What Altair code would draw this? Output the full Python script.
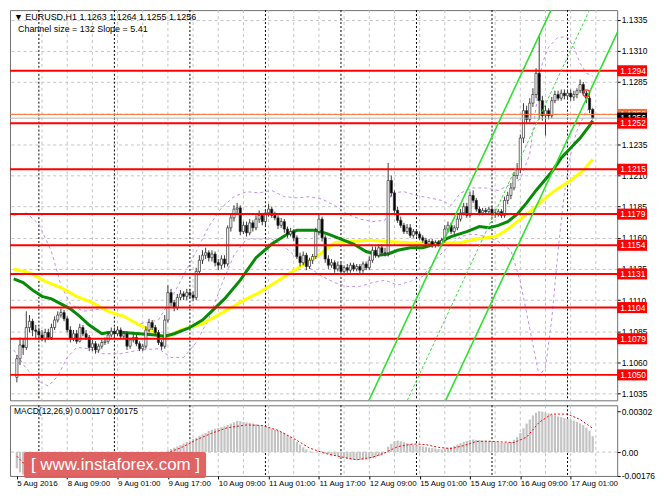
import altair as alt
import pandas as pd

FONT = "Liberation Sans"
W, H_MAIN, H_MACD = 610, 392, 71
X_DOMAIN = [-7.6, 182.2]
P_DOMAIN = [1.10296, 1.13427]
M_DOMAIN = [-0.00176, 0.00345]
FS = 8.5

header_line1 = "\u25BC EURUSD,H1  1.1263 1.1264 1.1255 1.1256"
header_line2 = "Channel size = 132 Slope = 5.41"
macd_caption = "MACD(12,26,9) 0.00117 0.00175"
watermark = "[  www.instaforex.com  ]"

# ---------------- hourly candles (bar 0 = 8 Aug 00:00) ----------------
bar_index = list(range(-7, 177))

opens = [
    1.1048, 1.1063, 1.1074, 1.1072, 1.1088, 1.1093, 1.1086,
    1.1085, 1.1082, 1.1079, 1.1084, 1.1080, 1.1088, 1.1094, 1.1098, 1.1100, 1.1095, 1.1086, 1.1079,
    1.1083, 1.1077, 1.1088, 1.1083, 1.1080, 1.1072, 1.1075, 1.1070, 1.1073, 1.1076, 1.1077, 1.1082,
    1.1085, 1.1083, 1.1086, 1.1081, 1.1083, 1.1073, 1.1078, 1.1080, 1.1075, 1.1071, 1.1073, 1.1086,
    1.1092, 1.1088, 1.1084, 1.1076, 1.1073, 1.1094, 1.1116, 1.1108, 1.1104, 1.1112, 1.1115, 1.1113,
    1.1116, 1.1114, 1.1112, 1.1133, 1.1142, 1.1146, 1.1148, 1.1144, 1.1147, 1.1140, 1.1138, 1.1143,
    1.1139, 1.1168, 1.1176, 1.1183, 1.1184, 1.1165, 1.1170, 1.1164, 1.1172, 1.1168, 1.1175, 1.1178,
    1.1173, 1.1180, 1.1183, 1.1178, 1.1176, 1.1170, 1.1173, 1.1167, 1.1163, 1.1165, 1.1160, 1.1145,
    1.1140, 1.1146, 1.1137, 1.1142, 1.1145, 1.1165, 1.1175, 1.1160, 1.1143, 1.1138, 1.1140, 1.1135,
    1.1138, 1.1133, 1.1136, 1.1134, 1.1138, 1.1135, 1.1137, 1.1134, 1.1139, 1.1136, 1.1142, 1.1150,
    1.1146, 1.1152, 1.1148, 1.1148, 1.1206, 1.1196, 1.1182, 1.1174, 1.1170, 1.1165, 1.1168, 1.1162,
    1.1165, 1.1163, 1.1160, 1.1158, 1.1155, 1.1157, 1.1154, 1.1156, 1.1155, 1.1158, 1.1167, 1.1170,
    1.1165, 1.1168, 1.1175, 1.1180, 1.1185, 1.1178, 1.1194, 1.1190, 1.1183, 1.1180, 1.1182, 1.1181,
    1.1183, 1.1180, 1.1179, 1.1181, 1.1178, 1.1190, 1.1194, 1.1200, 1.1210, 1.1215, 1.1240, 1.1262,
    1.1255, 1.1268, 1.1275, 1.1292, 1.1270, 1.1258, 1.1262, 1.1258, 1.1270, 1.1275, 1.1272, 1.1276,
    1.1274, 1.1276, 1.1273, 1.1275, 1.1278, 1.1283, 1.1276, 1.1272, 1.1263,
]
highs = [
    1.1066, 1.1080, 1.1079, 1.1101, 1.1098, 1.1095, 1.1090,
    1.1088, 1.1086, 1.1087, 1.1087, 1.1091, 1.1097, 1.1101, 1.1103, 1.1102, 1.1097, 1.1089, 1.1086,
    1.1086, 1.1091, 1.1090, 1.1086, 1.1082, 1.1078, 1.1077, 1.1075, 1.1078, 1.1080, 1.1084, 1.1088,
    1.1088, 1.1089, 1.1088, 1.1085, 1.1085, 1.1080, 1.1083, 1.1082, 1.1077, 1.1075, 1.1089, 1.1095,
    1.1094, 1.1090, 1.1086, 1.1078, 1.1098, 1.1122, 1.1119, 1.1110, 1.1115, 1.1118, 1.1117, 1.1119,
    1.1119, 1.1117, 1.1136, 1.1146, 1.1150, 1.1152, 1.1150, 1.1150, 1.1149, 1.1143, 1.1146, 1.1146,
    1.1170, 1.1179, 1.1186, 1.1188, 1.1186, 1.1173, 1.1173, 1.1175, 1.1174, 1.1178, 1.1182, 1.1180,
    1.1183, 1.1187, 1.1185, 1.1181, 1.1178, 1.1176, 1.1175, 1.1169, 1.1168, 1.1167, 1.1162, 1.1148,
    1.1149, 1.1148, 1.1144, 1.1147, 1.1168, 1.1179, 1.1177, 1.1162, 1.1146, 1.1143, 1.1142, 1.1141,
    1.1140, 1.1138, 1.1139, 1.1140, 1.1140, 1.1139, 1.1139, 1.1141, 1.1141, 1.1145, 1.1153, 1.1153,
    1.1155, 1.1155, 1.1152, 1.1220, 1.1210, 1.1198, 1.1185, 1.1177, 1.1172, 1.1171, 1.1171, 1.1167,
    1.1167, 1.1165, 1.1162, 1.1160, 1.1159, 1.1159, 1.1158, 1.1158, 1.1160, 1.1170, 1.1173, 1.1172,
    1.1170, 1.1178, 1.1183, 1.1188, 1.1188, 1.1197, 1.1198, 1.1192, 1.1185, 1.1184, 1.1184, 1.1185,
    1.1185, 1.1183, 1.1183, 1.1183, 1.1193, 1.1197, 1.1204, 1.1213, 1.1220, 1.1243, 1.1268, 1.1266,
    1.1272, 1.1280, 1.1296, 1.1322, 1.1274, 1.1266, 1.1264, 1.1273, 1.1278, 1.1278, 1.1279, 1.1279,
    1.1279, 1.1279, 1.1278, 1.1280, 1.1287, 1.1285, 1.1278, 1.1274, 1.1264,
]
lows = [
    1.1044, 1.1058, 1.1066, 1.1070, 1.1084, 1.1081, 1.1079,
    1.1078, 1.1077, 1.1076, 1.1078, 1.1078, 1.1086, 1.1092, 1.1096, 1.1093, 1.1084, 1.1076, 1.1077,
    1.1075, 1.1076, 1.1081, 1.1078, 1.1069, 1.1069, 1.1067, 1.1068, 1.1071, 1.1074, 1.1075, 1.1080,
    1.1080, 1.1081, 1.1079, 1.1079, 1.1070, 1.1071, 1.1076, 1.1073, 1.1069, 1.1069, 1.1071, 1.1084,
    1.1086, 1.1082, 1.1074, 1.1070, 1.1071, 1.1092, 1.1105, 1.1101, 1.1102, 1.1110, 1.1110, 1.1110,
    1.1111, 1.1109, 1.1110, 1.1130, 1.1139, 1.1143, 1.1141, 1.1141, 1.1137, 1.1134, 1.1135, 1.1136,
    1.1137, 1.1165, 1.1173, 1.1179, 1.1162, 1.1163, 1.1161, 1.1162, 1.1165, 1.1166, 1.1172, 1.1170,
    1.1170, 1.1177, 1.1176, 1.1174, 1.1167, 1.1168, 1.1164, 1.1160, 1.1161, 1.1157, 1.1143, 1.1137,
    1.1138, 1.1134, 1.1135, 1.1139, 1.1143, 1.1162, 1.1157, 1.1140, 1.1135, 1.1136, 1.1132, 1.1133,
    1.1130, 1.1131, 1.1132, 1.1132, 1.1133, 1.1133, 1.1131, 1.1132, 1.1134, 1.1134, 1.1140, 1.1144,
    1.1144, 1.1146, 1.1145, 1.1145, 1.1193, 1.1180, 1.1172, 1.1168, 1.1163, 1.1163, 1.1160, 1.1160,
    1.1161, 1.1158, 1.1156, 1.1152, 1.1153, 1.1152, 1.1152, 1.1153, 1.1153, 1.1156, 1.1164, 1.1163,
    1.1163, 1.1166, 1.1173, 1.1178, 1.1176, 1.1176, 1.1188, 1.1181, 1.1178, 1.1178, 1.1179, 1.1179,
    1.1177, 1.1176, 1.1177, 1.1176, 1.1176, 1.1187, 1.1191, 1.1198, 1.1207, 1.1212, 1.1236, 1.1252,
    1.1253, 1.1265, 1.1272, 1.1255, 1.1254, 1.1242, 1.1255, 1.1256, 1.1268, 1.1270, 1.1270, 1.1271,
    1.1271, 1.1270, 1.1270, 1.1272, 1.1276, 1.1274, 1.1268, 1.1260, 1.1255,
]
closes = [
    1.1063, 1.1074, 1.1072, 1.1088, 1.1093, 1.1086, 1.1085,
    1.1082, 1.1079, 1.1084, 1.1080, 1.1088, 1.1094, 1.1098, 1.1100, 1.1095, 1.1086, 1.1079, 1.1083,
    1.1077, 1.1088, 1.1083, 1.1080, 1.1072, 1.1075, 1.1070, 1.1073, 1.1076, 1.1077, 1.1082, 1.1085,
    1.1083, 1.1086, 1.1081, 1.1083, 1.1073, 1.1078, 1.1080, 1.1075, 1.1071, 1.1073, 1.1086, 1.1092,
    1.1088, 1.1084, 1.1076, 1.1073, 1.1094, 1.1116, 1.1108, 1.1104, 1.1112, 1.1115, 1.1113, 1.1116,
    1.1114, 1.1112, 1.1133, 1.1142, 1.1146, 1.1148, 1.1144, 1.1147, 1.1140, 1.1138, 1.1143, 1.1139,
    1.1168, 1.1176, 1.1183, 1.1184, 1.1165, 1.1170, 1.1164, 1.1172, 1.1168, 1.1175, 1.1178, 1.1173,
    1.1180, 1.1183, 1.1178, 1.1176, 1.1170, 1.1173, 1.1167, 1.1163, 1.1165, 1.1160, 1.1145, 1.1140,
    1.1146, 1.1137, 1.1142, 1.1145, 1.1165, 1.1175, 1.1160, 1.1143, 1.1138, 1.1140, 1.1135, 1.1138,
    1.1133, 1.1136, 1.1134, 1.1138, 1.1135, 1.1137, 1.1134, 1.1139, 1.1136, 1.1142, 1.1150, 1.1146,
    1.1152, 1.1148, 1.1148, 1.1206, 1.1196, 1.1182, 1.1174, 1.1170, 1.1165, 1.1168, 1.1162, 1.1165,
    1.1163, 1.1160, 1.1158, 1.1155, 1.1157, 1.1154, 1.1156, 1.1155, 1.1158, 1.1167, 1.1170, 1.1165,
    1.1168, 1.1175, 1.1180, 1.1185, 1.1178, 1.1194, 1.1190, 1.1183, 1.1180, 1.1182, 1.1181, 1.1183,
    1.1180, 1.1179, 1.1181, 1.1178, 1.1190, 1.1194, 1.1200, 1.1210, 1.1215, 1.1240, 1.1262, 1.1255,
    1.1268, 1.1275, 1.1292, 1.1270, 1.1258, 1.1262, 1.1258, 1.1270, 1.1275, 1.1272, 1.1276, 1.1274,
    1.1276, 1.1273, 1.1275, 1.1278, 1.1283, 1.1276, 1.1272, 1.1263, 1.1256,
]

# MACD main value per bar, in units of 0.00001
macd_hist_e5 = [
    -120, -150, -165, -170, -160, -150, -140,
    -135, -130, -125, -120, -110, -100, -90, -80, -75, -75, -80, -85,
    -90, -90, -90, -95, -100, -105, -105, -100, -95, -90, -85, -80,
    -75, -70, -65, -65, -70, -70, -70, -72, -75, -72, -60, -50,
    -42, -35, -25, -12, 2, 12, 22, 32, 42, 52, 63, 75,
    85, 95, 105, 120, 130, 140, 155, 165, 172, 178, 184, 190,
    200, 210, 220, 230, 228, 222, 218, 214, 210, 205, 200, 196,
    190, 185, 175, 165, 160, 150, 140, 125, 113, 95, 75, 55,
    35, 20, 5, -5, 0, 8, 5, -10, -15, -25, -28, -32,
    -40, -45, -52, -55, -58, -60, -59, -57, -55, -50, -45, -38,
    -30, -25, -10, 40, 60, 80, 85, 80, 72, 65, 60, 55,
    50, 45, 42, 38, 33, 30, 27, 22, 20, 25, 32, 38,
    45, 55, 65, 75, 82, 90, 92, 90, 88, 86, 84, 82,
    78, 74, 72, 70, 68, 70, 75, 90, 110, 140, 175, 210,
    240, 270, 290, 302, 298, 292, 285, 278, 270, 262, 258, 252,
    246, 240, 232, 222, 212, 200, 180, 155, 117,
]
signal_i = [-7, -5, 0, 6, 12, 18, 24, 30, 35, 40, 45, 50, 55, 60, 66, 71, 76, 81, 86, 91,
            96, 101, 106, 110, 114, 119, 123, 127, 131, 135, 139, 143, 147, 151, 155, 159, 163, 168, 172, 176]
signal_e5 = [-30, -80, -115, -125, -110, -100, -95, -75, -55, -12, 30, 90, 140, 180, 200, 196, 160, 100, 30, -10,
             -35, -57, -38, -5, 40, 60, 55, 35, 25, 48, 78, 80, 75, 70, 110, 220, 280, 280, 240, 175]

# moving averages
ma_green_i = [-8, -5, -2, 1, 4, 7, 10, 13, 16, 20, 22, 27, 32, 37, 40, 43, 48, 52, 59, 64,
              69, 74, 79, 82, 88, 92, 96, 100, 104, 108, 111, 114, 118, 122, 126, 131, 136, 140, 143, 146,
              149, 152, 155, 158, 163, 166, 169, 172, 175, 176]
ma_green = [1.1127, 1.1124, 1.1118, 1.1113, 1.1111, 1.1107, 1.1103, 1.1097, 1.1090, 1.1083,
            1.1084, 1.1084, 1.1083, 1.1082, 1.1081, 1.1083, 1.1088, 1.1094, 1.1111, 1.1126,
            1.1144, 1.1155, 1.1163, 1.1166, 1.1166, 1.1163, 1.1159, 1.1155, 1.1149, 1.1146,
            1.1147, 1.1150, 1.1152, 1.1152, 1.1155, 1.1161, 1.1165, 1.1169, 1.1168, 1.1170,
            1.1173, 1.1179, 1.1188, 1.1198, 1.1213, 1.1224, 1.1232, 1.1240, 1.1250, 1.1254]
ma_yellow_i = [-8, -3, 2, 7, 12, 17, 22, 27, 32, 37, 39, 41, 45, 49, 52, 66, 70, 75, 80,
               85, 90, 94, 99, 105, 111, 118, 128, 134, 139, 145, 148, 152, 157, 161, 164, 169, 173, 176]
ma_yellow = [1.1135, 1.1132, 1.1125, 1.1120, 1.1113, 1.1108, 1.1101, 1.1097, 1.1090, 1.1084,
             1.1080, 1.1081, 1.1086, 1.1089, 1.1091, 1.1111, 1.1116, 1.1124, 1.1132,
             1.1140, 1.1148, 1.1156, 1.1157, 1.1158, 1.1157, 1.1156, 1.1156, 1.1156, 1.1159,
             1.1161, 1.1165, 1.1173, 1.1183, 1.1192, 1.1198, 1.1206, 1.1214, 1.1223]

# Bollinger envelope
bb_upper_i = [-8, -4, 0, 4, 7, 10, 14, 20, 26, 32, 38, 42, 46, 50, 54, 58, 62, 66, 70, 74,
              78, 82, 86, 90, 94, 98, 102, 106, 110, 112, 116, 120, 124, 128, 131, 134, 138, 142, 146, 150,
              153, 156, 158, 160, 162, 165, 168, 170, 172, 174, 176]
bb_upper = [1.1178, 1.1180, 1.1171, 1.1149, 1.1122, 1.1107, 1.1101, 1.1103, 1.1097, 1.1091,
            1.1094, 1.1111, 1.1130, 1.1149, 1.1169, 1.1184, 1.1193, 1.1197, 1.1196, 1.1198,
            1.1193, 1.1192, 1.1193, 1.1191, 1.1186, 1.1179, 1.1175, 1.1173, 1.1174, 1.1196,
            1.1197, 1.1194, 1.1192, 1.1190, 1.1186, 1.1196, 1.1200, 1.1200, 1.1198, 1.1203,
            1.1207, 1.1227, 1.1265, 1.1300, 1.1313, 1.1321, 1.1321, 1.1313, 1.1300, 1.1292, 1.1290]
bb_lower_i = [-8, -4, 0, 3, 6, 9, 12, 16, 20, 26, 32, 38, 42, 46, 50, 54, 58, 62, 66, 70,
              74, 78, 82, 86, 90, 94, 98, 102, 106, 110, 114, 118, 122, 126, 130, 134, 138, 142, 146, 150,
              153, 156, 159, 161, 163, 165, 167, 169, 171, 174, 176]
bb_lower = [1.1070, 1.1055, 1.1045, 1.1041, 1.1049, 1.1064, 1.1072, 1.1071, 1.1067, 1.1067,
            1.1070, 1.1071, 1.1064, 1.1064, 1.1076, 1.1095, 1.1122, 1.1146, 1.1159, 1.1159,
            1.1159, 1.1153, 1.1144, 1.1136, 1.1129, 1.1124, 1.1121, 1.1121, 1.1124, 1.1126,
            1.1122, 1.1125, 1.1129, 1.1142, 1.1153, 1.1161, 1.1163, 1.1161, 1.1157, 1.1150,
            1.1125, 1.1087, 1.1049, 1.1056, 1.1095, 1.1150, 1.1196, 1.1227, 1.1246, 1.1262, 1.1265]

# regression channel (end points of the three lines)
channel_i = [95, 185]
channel_upper = [1.0976, 1.1463]
channel_mid = [1.0910, 1.1397]
channel_lower = [1.0844, 1.1331]

# horizontal levels and price lines
levels = [1.1294, 1.1252, 1.1215, 1.1179, 1.1154, 1.1131, 1.1104, 1.1079, 1.1050]
ask_price = 1.1259
bid_price = 1.1256
alert_bar = [174]
alert_price = [1.1276]

# axes
price_ticks = [1.1035, 1.1060, 1.1085, 1.1110, 1.1135, 1.1160, 1.1185, 1.1210,
               1.1235, 1.1260, 1.1285, 1.1310, 1.1335]
price_tick_hidden = [1.1260]          # covered by the price-line labels in the reference
macd_ticks = [-0.00176, 0.0, 0.00302]
macd_tick_labels = ["-0.00176", "0.00", "0.00302"]
time_ticks = [-7, 9, 25, 41, 57, 73, 89, 105, 121, 137, 153, 169]
time_labels = ["5 Aug 2016", "8 Aug 09:00", "9 Aug 01:00", "9 Aug 17:00", "10 Aug 09:00",
               "11 Aug 01:00", "11 Aug 17:00", "12 Aug 09:00", "15 Aug 01:00", "15 Aug 17:00",
               "16 Aug 09:00", "17 Aug 01:00"]
grid_ticks = [1, 9, 17, 25, 33, 41, 49, 57, 65, 73, 81, 89, 97, 105, 113, 121, 129, 137,
              145, 153, 161, 169, 177]
day_starts = [0, 24, 48, 72, 96, 120, 144, 168]

for lst in (opens, highs, lows, closes, macd_hist_e5):
    assert len(lst) == len(bar_index), len(lst)
assert len(signal_i) == len(signal_e5)
assert len(ma_green_i) == len(ma_green)
assert len(ma_yellow_i) == len(ma_yellow)
assert len(bb_upper_i) == len(bb_upper)
assert len(bb_lower_i) == len(bb_lower)

# ---------------- tables ----------------
candles = pd.DataFrame({"i": bar_index, "o": opens, "h": highs, "l": lows, "c": closes})
candles["fill"] = ["#ffffff" if c >= o else "#000000" for o, c in zip(opens, closes)]
hist = pd.DataFrame({"i": bar_index, "v": [v * 1e-5 for v in macd_hist_e5]})
signal = pd.DataFrame({"i": signal_i, "v": [v * 1e-5 for v in signal_e5]})
green = pd.DataFrame({"i": ma_green_i, "p": ma_green})
yellow = pd.DataFrame({"i": ma_yellow_i, "p": ma_yellow})
bbu = pd.DataFrame({"i": bb_upper_i, "p": bb_upper})
bbl = pd.DataFrame({"i": bb_lower_i, "p": bb_lower})
ch_solid = pd.DataFrame({"i": channel_i * 2, "p": channel_upper + channel_lower,
                         "k": ["u", "u", "l", "l"]})
ch_mid = pd.DataFrame({"i": channel_i, "p": channel_mid})
lv = pd.DataFrame({"p": levels, "lab": [f"{v:.4f}" for v in levels]})
ask = pd.DataFrame({"p": [ask_price], "lab": [f"{ask_price:.4f}"]})
bid = pd.DataFrame({"p": [bid_price], "lab": [f"{bid_price:.4f}"]})
alert = pd.DataFrame({"i": alert_bar, "p": alert_price})
grid_df = pd.DataFrame({"i": grid_ticks})
days_df = pd.DataFrame({"i": day_starts})
one = pd.DataFrame({"t": [""]})

# ---------------- scales / axes ----------------
xs = alt.Scale(domain=X_DOMAIN, nice=False, zero=False)
ps = alt.Scale(domain=P_DOMAIN, nice=False, zero=False)
ms = alt.Scale(domain=M_DOMAIN, nice=False, zero=False)

p_expr = " || ".join(f"abs(datum.value - {v}) < 1e-7" for v in price_tick_hidden) + \
    " ? '' : format(datum.value, '.4f')"
AX_P = alt.Axis(orient="right", values=price_ticks, labelExpr=p_expr, grid=True, gridColor="#c4c4c4",
                gridDash=[3, 3], gridWidth=1, domain=False, tickSize=3, tickColor="#000000",
                labelPadding=1, labelFont=FONT, labelFontSize=FS, labelColor="#000000", title=None)
m_expr = " : ".join(f"abs(datum.value - ({v})) < 1e-7 ? '{t}'"
                    for v, t in zip(macd_ticks, macd_tick_labels)) + " : ''"
AX_M = alt.Axis(orient="right", values=macd_ticks, labelExpr=m_expr, grid=False, domain=False,
                tickSize=3, tickColor="#000000", labelPadding=1, labelFont=FONT, labelFontSize=FS,
                labelColor="#000000", title=None)
t_expr = " : ".join(f"datum.value == {v} ? '{t}'" for v, t in zip(time_ticks, time_labels)) + " : ''"
AX_T = alt.Axis(values=time_ticks, labelExpr=t_expr, labelAlign="left", labelFlush=False,
                labelOverlap=False, grid=False, domain=False, tickSize=3, tickColor="#000000",
                labelPadding=1, labelFont=FONT, labelFontSize=8, labelColor="#000000", title=None)

XN = alt.X("i:Q", scale=xs, axis=None)
XM = alt.X("i:Q", scale=xs, axis=AX_T)


def PY(f):
    return alt.Y(f, scale=ps, axis=AX_P)


def MY(f):
    return alt.Y(f, scale=ms, axis=AX_M)


BOX = "M-1,-0.37L1,-0.37L1,0.37L-1,0.37Z"

# ---------------- main price panel ----------------
vgrid = alt.Chart(grid_df).mark_rule(color="#c4c4c4", strokeDash=[3, 3], strokeWidth=1).encode(x=XN)
vdays = alt.Chart(days_df).mark_rule(color="#000000", strokeDash=[2, 2], strokeWidth=1).encode(x=XN)
l_bbu = alt.Chart(bbu).mark_line(color="#bd8ded", strokeDash=[3, 3], strokeWidth=1, clip=True).encode(x=XN, y=PY("p:Q"))
l_bbl = alt.Chart(bbl).mark_line(color="#bd8ded", strokeDash=[3, 3], strokeWidth=1, clip=True).encode(x=XN, y=PY("p:Q"))
l_yel = alt.Chart(yellow).mark_line(color="#ffff00", strokeWidth=3, clip=True).encode(x=XN, y=PY("p:Q"))
l_grn = alt.Chart(green).mark_line(color="#078a07", strokeWidth=3, clip=True).encode(x=XN, y=PY("p:Q"))
wick = alt.Chart(candles).mark_rule(color="#3a3a3a", strokeWidth=1).encode(x=XN, y=PY("l:Q"), y2="h:Q")
body = alt.Chart(candles).mark_bar(width=2.2, stroke="#303030", strokeWidth=0.7).encode(
    x=XN, y=PY("o:Q"), y2="c:Q", color=alt.Color("fill:N", scale=None))
r_lv = alt.Chart(lv).mark_rule(color="#ff0000", strokeWidth=2).encode(y=PY("p:Q"))
r_ask = alt.Chart(ask).mark_rule(color="#ff7035", strokeWidth=1).encode(y=PY("p:Q"))
r_bid = alt.Chart(bid).mark_rule(color="#b4b4b4", strokeWidth=1).encode(y=PY("p:Q"))
c_sol = alt.Chart(ch_solid).mark_line(color="#2fe02f", strokeWidth=1.6, clip=True).encode(
    x=XN, y=PY("p:Q"), detail="k:N")
c_mid = alt.Chart(ch_mid).mark_line(color="#3ddc3d", strokeWidth=1, strokeDash=[3, 2], clip=True).encode(
    x=XN, y=PY("p:Q"))
p_alert = alt.Chart(alert).mark_point(shape="circle", size=45, filled=False, color="#ff3030",
                                      strokeWidth=1.2, opacity=1).encode(x=XN, y=PY("p:Q"))


def label_box(df, fill, text_color):
    box = alt.Chart(df).mark_point(shape=BOX, size=900, filled=True, opacity=1, strokeWidth=0,
                                   color=fill).encode(x=alt.value(W + 15), y=PY("p:Q"))
    txt = alt.Chart(df).mark_text(align="left", baseline="middle", font=FONT, fontSize=FS,
                                  color=text_color).encode(x=alt.value(W + 3), y=PY("p:Q"), text="lab:N")
    return box, txt


b_ask, t_ask = label_box(ask, "#ff6a30", "#ffffff")
b_bid, t_bid = label_box(bid, "#000000", "#ffffff")
b_lv, t_lv = label_box(lv, "#ff0000", "#ffffff")

hdr1 = alt.Chart(one).mark_text(align="left", baseline="middle", font=FONT, fontSize=9,
                                color="#000000").encode(x=alt.value(4), y=alt.value(7), text=alt.value(header_line1))
hdr2 = alt.Chart(one).mark_text(align="left", baseline="middle", font=FONT, fontSize=9,
                                color="#000000").encode(x=alt.value(8), y=alt.value(19), text=alt.value(header_line2))

main = alt.layer(vgrid, vdays, l_bbu, l_bbl, l_yel, l_grn, wick, body, r_lv, r_ask, r_bid,
                 c_sol, c_mid, p_alert, b_ask, t_ask, b_bid, t_bid, b_lv, t_lv, hdr1, hdr2
                 ).properties(width=W, height=H_MAIN)

# ---------------- MACD panel ----------------
m_vgrid = alt.Chart(grid_df).mark_rule(color="#c4c4c4", strokeDash=[3, 3], strokeWidth=1).encode(x=XM)
m_vdays = alt.Chart(days_df).mark_rule(color="#000000", strokeDash=[2, 2], strokeWidth=1).encode(x=XM)
m_zero = alt.Chart(pd.DataFrame({"v": [0.0]})).mark_rule(color="#c0c0c0", strokeDash=[3, 3]).encode(y=MY("v:Q"))
m_bars = alt.Chart(hist).mark_bar(width=2.2, color="#c3c3c3").encode(x=XM, y=MY("v:Q"), y2=alt.datum(0))
m_sig = alt.Chart(signal).mark_line(color="#ff0000", strokeDash=[2, 2], strokeWidth=1).encode(x=XM, y=MY("v:Q"))
m_cap = alt.Chart(one).mark_text(align="left", baseline="middle", font=FONT, fontSize=FS,
                                 color="#000000").encode(x=alt.value(4), y=alt.value(6), text=alt.value(macd_caption))
wm_box = alt.Chart(one).mark_rect(color="#df5c5c", cornerRadius=2, opacity=0.95).encode(
    x=alt.value(14), x2=alt.value(197), y=alt.value(47), y2=alt.value(73))
wm_txt = alt.Chart(one).mark_text(align="center", baseline="middle", font=FONT, fontSize=17,
                                  color="#ffffff").encode(x=alt.value(106), y=alt.value(60), text=alt.value(watermark))

macd = alt.layer(m_vgrid, m_vdays, m_zero, m_bars, m_sig, m_cap, wm_box, wm_txt
                 ).properties(width=W, height=H_MACD)

chart = alt.vconcat(main, macd, spacing=3).resolve_scale(y="independent").properties(
    padding=0, background="#ffffff").configure_view(stroke="#707070", strokeWidth=1)

chart.save("out.html", embed_options={"renderer": "svg", "actions": False})
